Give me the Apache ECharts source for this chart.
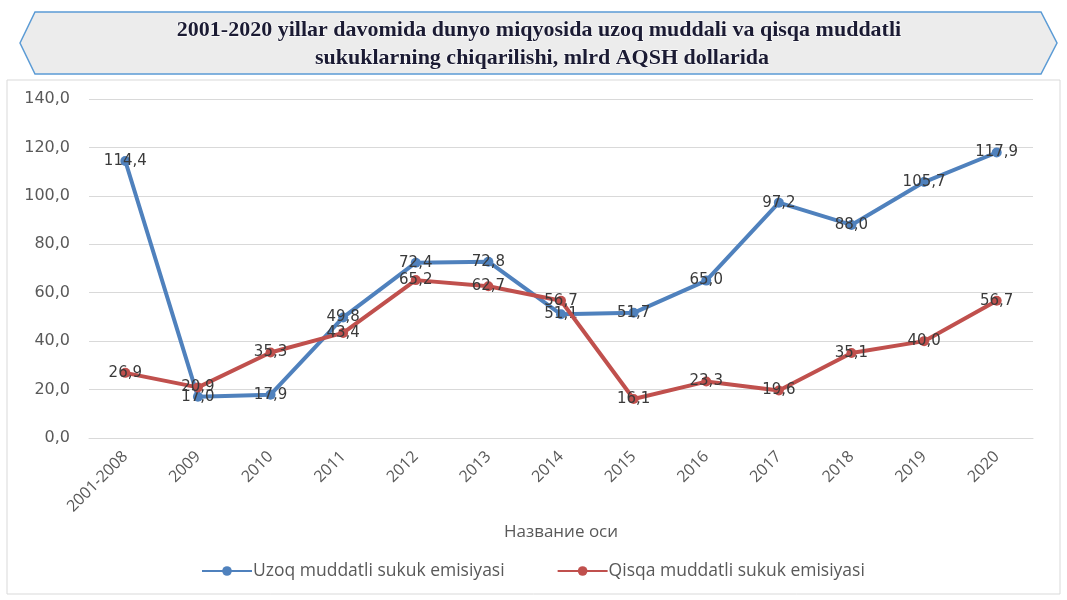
<!DOCTYPE html>
<html>
<head>
<meta charset="utf-8">
<script src="https://cdn.jsdelivr.net/npm/echarts@6/dist/echarts.min.js"></script>
<style>
html,body{margin:0;padding:0;background:#fff;}
#chart{width:1067px;height:600px;}
</style>
</head>
<body>
<div id="chart"></div>
<script>
const titleLines = [
  "2001-2020 yillar davomida dunyo miqyosida uzoq muddali va qisqa muddatli",
  "sukuklarning chiqarilishi, mlrd AQSH dollarida"
];
const categories = ["2001-2008","2009","2010","2011","2012","2013","2014","2015","2016","2017","2018","2019","2020"];
const uzoqName = "Uzoq muddatli sukuk emisiyasi";
const qisqaName = "Qisqa muddatli sukuk emisiyasi";
const uzoq = [114.4, 17.0, 17.9, 49.8, 72.4, 72.8, 51.1, 51.7, 65.0, 97.2, 88.0, 105.7, 117.9];
const qisqa = [26.9, 20.9, 35.3, 43.4, 65.2, 62.7, 56.7, 16.1, 23.3, 19.6, 35.1, 40.0, 56.7];
const axisName = "Название оси";
const yMin = 0, yMax = 140, yStep = 20;

const fmt = v => Number(v).toFixed(1).replace('.', ',');
const chart = echarts.init(document.getElementById('chart'), null, {renderer: 'canvas'});

const labelStyle = {
  show: true,
  position: 'inside',
  fontFamily: 'DejaVu Sans',
  fontSize: 15,
  color: '#3a3a3a',
  formatter: p => fmt(p.value)
};

chart.setOption({
  backgroundColor: '#ffffff',
  animation: false,
  graphic: [
    {type: 'rect', z: -10, shape: {x: 7, y: 80, width: 1053, height: 514},
      style: {fill: '#ffffff', stroke: '#d9d9d9', lineWidth: 1}},
    {type: 'polygon', z: 10,
      shape: {points: [[20,43],[35,12],[1041,12],[1057,43],[1041,74],[35,74]]},
      style: {fill: '#ececec', stroke: '#5b9bd5', lineWidth: 1.5}},
    {type: 'text', z: 11, x: 539, y: 30,
      style: {text: titleLines[0], font: 'bold 22px "Liberation Serif"', fill: '#1b1b33',
        textAlign: 'center', textVerticalAlign: 'middle', align: 'center', verticalAlign: 'middle',
        stroke: '#ffffff', lineWidth: 1}},
    {type: 'text', z: 11, x: 542, y: 58,
      style: {text: titleLines[1], font: 'bold 22px "Liberation Serif"', fill: '#1b1b33',
        textAlign: 'center', textVerticalAlign: 'middle', align: 'center', verticalAlign: 'middle',
        stroke: '#ffffff', lineWidth: 1}}
  ],
  grid: {left: 89, right: 34, top: 99, bottom: 162, containLabel: false},
  legend: {
    top: 557,
    left: 196,
    itemGap: 52,
    itemWidth: 50,
    itemHeight: 12,
    textStyle: {fontFamily: 'Open Sans', fontSize: 17.5, color: '#595959', padding: [0,0,0,-4]},
    data: [uzoqName, qisqaName]
  },
  xAxis: {
    type: 'category',
    data: categories,
    boundaryGap: true,
    name: axisName,
    nameLocation: 'middle',
    nameGap: 86,
    nameTextStyle: {fontFamily: 'Open Sans', fontSize: 17, color: '#595959'},
    axisLine: {show: true, lineStyle: {color: '#d9d9d9'}},
    axisTick: {show: false},
    axisLabel: {rotate: 45, interval: 0, margin: 16, fontFamily: 'Open Sans', fontSize: 16, color: '#595959'}
  },
  yAxis: {
    type: 'value',
    min: yMin, max: yMax, interval: yStep,
    axisLine: {show: false},
    axisTick: {show: false},
    splitLine: {lineStyle: {color: '#d9d9d9', width: 1}},
    axisLabel: {formatter: v => fmt(v), margin: 19, fontFamily: 'DejaVu Sans', fontSize: 16, color: '#595959'}
  },
  series: [
    {
      name: uzoqName, type: 'line', data: uzoq,
      symbol: 'circle', symbolSize: 10,
      lineStyle: {color: '#4f81bd', width: 4},
      itemStyle: {color: '#4f81bd'},
      label: labelStyle, z: 3
    },
    {
      name: qisqaName, type: 'line', data: qisqa,
      symbol: 'circle', symbolSize: 10,
      lineStyle: {color: '#c0504d', width: 4},
      itemStyle: {color: '#c0504d'},
      label: labelStyle, z: 4
    }
  ]
});
</script>
</body>
</html>
